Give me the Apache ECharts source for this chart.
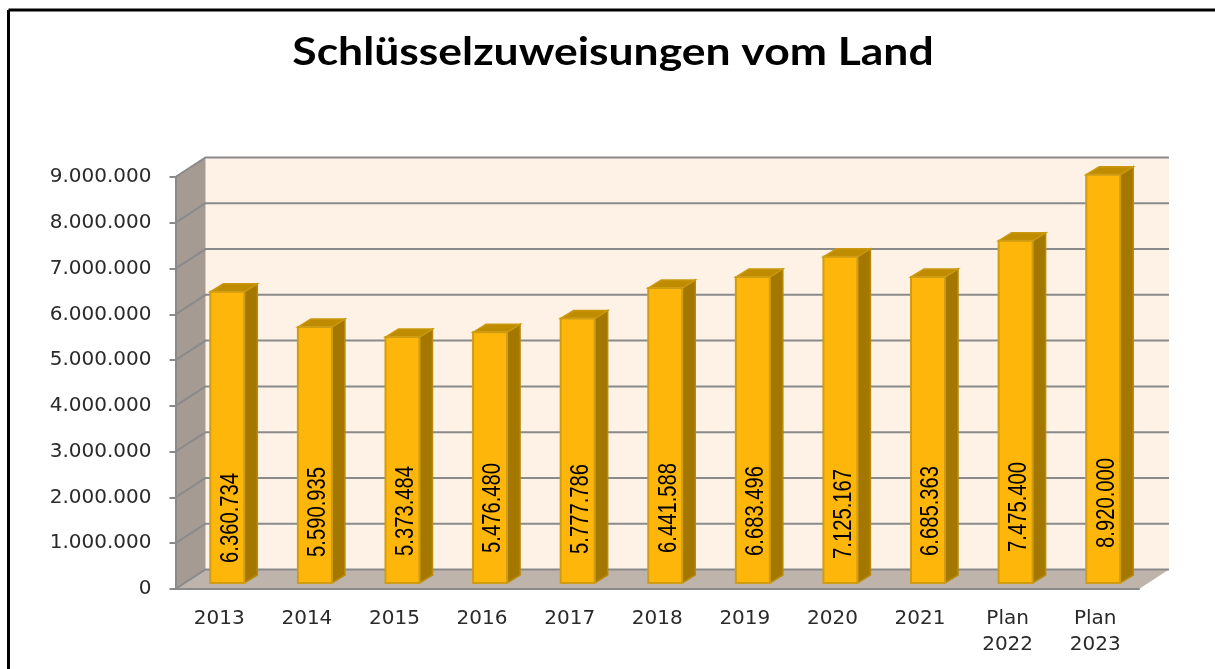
<!DOCTYPE html>
<html>
<head>
<meta charset="utf-8">
<title>Schlüsselzuweisungen vom Land</title>
<script src="https://cdn.jsdelivr.net/npm/echarts@6/dist/echarts.min.js"></script>
<style>
  html, body { margin: 0; padding: 0; background: #fff; }
  #main { width: 1215px; height: 669px; }
</style>
</head>
<body>
<div id="main"></div>
<script>
  var chartTitle = 'Schlüsselzuweisungen vom Land'
  var years = ['2013', '2014', '2015', '2016', '2017', '2018', '2019', '2020', '2021', 'Plan\n2022', 'Plan\n2023']
  var amounts = [6360734, 5590935, 5373484, 5476480, 5777786, 6441588, 6683496, 7125167, 6685363, 7475400, 8920000]
  var gridTicks = [0, 1000000, 2000000, 3000000, 4000000, 5000000, 6000000, 7000000, 8000000, 9000000]

  // 3d look, all in px
  var wallDx = 30, wallDy = -19.5
  var barShiftX = 8, barShiftY = -6, barW = 34, barDx = 13, barDy = -8
  // the labels are not on one line in the original, px above the bar foot
  var labelLift = [20, 26, 27, 30, 29, 30, 27, 24, 27, 31, 35]

  var gridColor = '#8a8a8a'

  function dots (n) {
    return String(n).replace(/\B(?=(\d{3})+$)/g, '.')
  }

  function poly (points, fill, stroke, width) {
    return {
      type: 'polygon',
      shape: { points: points },
      style: { fill: fill, stroke: stroke || null, lineWidth: stroke ? (width || 1.5) : 0 }
    }
  }

  function renderWall (params, api) {
    var sys = params.coordSys
    var left = sys.x, right = sys.x + sys.width
    var y = api.coord([0, api.value(1)])[1]
    var children = []
    if (params.dataIndex === 0) {
      var top = sys.y, bottom = sys.y + sys.height
      children.push(poly([[left + wallDx, top + wallDy], [right + wallDx, top + wallDy],
        [right + wallDx, bottom + wallDy], [left + wallDx, bottom + wallDy]], '#fef2e6'))
      children.push(poly([[left, top], [left + wallDx, top + wallDy],
        [left + wallDx, bottom + wallDy], [left, bottom]], '#a69b93'))
      children.push(poly([[left, bottom], [left + wallDx, bottom + wallDy],
        [right + wallDx, bottom + wallDy], [right, bottom]], '#beb4ab'))
    }
    children.push({
      type: 'polyline',
      shape: { points: [[left, y], [left + wallDx, y + wallDy], [right + wallDx, y + wallDy]] },
      style: { fill: null, stroke: gridColor, lineWidth: 2 }
    })
    return { type: 'group', children: children }
  }

  function renderBar (params, api) {
    var topPt = api.coord([api.value(0), api.value(1)])
    var footPt = api.coord([api.value(0), 0])
    var x0 = topPt[0] + barShiftX - barW / 2
    var x1 = x0 + barW
    var yTop = topPt[1] + barShiftY
    var yFoot = footPt[1] + barShiftY
    return {
      type: 'group',
      children: [
        poly([[x1, yTop], [x1 + barDx, yTop + barDy], [x1 + barDx, yFoot + barDy], [x1, yFoot]], '#a47700', '#b88a0c'),
        poly([[x0, yTop], [x0 + barDx, yTop + barDy], [x1 + barDx, yTop + barDy], [x1, yTop]], '#bf8c00', '#c9980f'),
        poly([[x0, yTop], [x1, yTop], [x1, yFoot], [x0, yFoot]], '#ffb60a', '#cf9d14', 2),
        {
          type: 'text',
          x: x0 + barW / 2 + 3.5,
          y: yFoot - labelLift[params.dataIndex],
          rotation: Math.PI / 2,
          scaleX: 0.81,
          style: {
            text: dots(api.value(1)),
            fill: '#000',
            font: '25px "Liberation Sans"',
            align: 'left',
            verticalAlign: 'middle'
          }
        }
      ]
    }
  }

  var myChart = echarts.init(document.getElementById('main'))
  var option = {
    backgroundColor: '#fff',
    animation: false,
    graphic: [
      { type: 'line', shape: { x1: 8.5, y1: 10, x2: 1215, y2: 10 }, style: { stroke: '#000', lineWidth: 3 } },
      { type: 'line', shape: { x1: 8.5, y1: 10, x2: 8.5, y2: 669 }, style: { stroke: '#000', lineWidth: 3 } },
      {
        // the original title is stretched sideways
        type: 'text',
        x: 613,
        y: 52,
        scaleX: 1.14,
        style: {
          text: chartTitle,
          fill: '#000',
          font: 'bold 39px Lato',
          align: 'center',
          verticalAlign: 'middle'
        }
      }
    ],
    grid: { left: 175.5, top: 177, width: 963.5, height: 412 },
    xAxis: {
      type: 'category',
      data: years,
      z: 5,
      axisLine: { lineStyle: { color: gridColor, width: 2 } },
      axisTick: { length: 6, lineStyle: { color: gridColor, width: 2 } },
      axisLabel: {
        margin: 17,
        fontFamily: 'DejaVu Sans',
        fontSize: 20,
        lineHeight: 26,
        color: '#2a2a2a'
      }
    },
    yAxis: {
      type: 'value',
      min: 0,
      max: 9000000,
      interval: 1000000,
      z: 5,
      splitLine: { show: false },
      axisLine: { show: true, lineStyle: { color: gridColor, width: 2 } },
      axisTick: { show: true, length: 6, lineStyle: { color: gridColor, width: 2 } },
      axisLabel: {
        margin: 24,
        padding: [2, 0, 0, 0],
        fontFamily: 'DejaVu Sans',
        fontSize: 20,
        color: '#2a2a2a',
        formatter: function (v) { return dots(v) }
      }
    },
    series: [
      {
        type: 'custom',
        z: 1,
        silent: true,
        clip: false,
        renderItem: renderWall,
        encode: { x: 0, y: 1 },
        data: gridTicks.map(function (t) { return [0, t] })
      },
      {
        type: 'custom',
        z: 2,
        silent: true,
        clip: false,
        renderItem: renderBar,
        encode: { x: 0, y: 1 },
        data: amounts.map(function (v, i) { return [i, v] })
      }
    ]
  }
  myChart.setOption(option)
</script>
</body>
</html>
